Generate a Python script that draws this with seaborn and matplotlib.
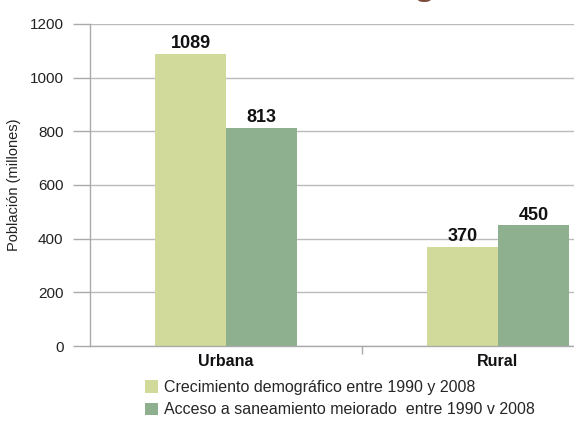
import matplotlib
matplotlib.use("Agg")
import matplotlib.pyplot as plt
import seaborn as sns
import pandas as pd
from matplotlib.patches import Patch

categories = ["Urbana", "Rural"]
series = ["Crecimiento demográfico entre 1990 y 2008",
          "Acceso a saneamiento meiorado  entre 1990 v 2008"]
crecimiento = [1089, 370]
acceso = [813, 450]
yticks = [0, 200, 400, 600, 800, 1000, 1200]
colors = ["#D1DA9B", "#8FB08F"]

sns.set_style("white")
narrow = ["Liberation Sans", "DejaVu Sans"]
plt.rcParams["font.family"] = narrow

df = pd.DataFrame({
    "cat": categories * 2,
    "serie": [series[0]] * 2 + [series[1]] * 2,
    "val": crecimiento + acceso,
})

fig = plt.figure(figsize=(5.74, 4.25), dpi=100)
ax = fig.add_axes([90 / 574, 79 / 425, 544 / 574, 322 / 425])

sns.barplot(data=df, x="cat", y="val", hue="serie", palette=colors,
            width=0.52, ax=ax, legend=False, saturation=1, linewidth=0,
            edgecolor="none")

ax.set_ylim(0, 1200)
ax.set_xlim(-0.5, 1.5)
ax.set_yticks(yticks)
ax.set_yticklabels([str(v) for v in yticks], fontsize=11, color="#222222")
ax.yaxis.grid(True, color="#BBBBBB", linewidth=1)
ax.set_axisbelow(True)
for s in ["top", "right"]:
    ax.spines[s].set_visible(False)
for s in ["left", "bottom"]:
    ax.spines[s].set_color("#AAAAAA")
    ax.spines[s].set_linewidth(1)
ax.tick_params(axis="y", length=12, color="#AAAAAA", width=1, pad=7, left=True)
ax.set_xticks([0, 1])
ax.set_xticklabels(categories, fontsize=11.5, fontweight="bold", color="#111111")
ax.set_xticks([0.5], minor=True)
ax.tick_params(axis="x", which="major", length=0, pad=6)
ax.tick_params(axis="x", which="minor", length=6, color="#AAAAAA", width=1, bottom=True)
ax.set_xlabel("")
ax.set_ylabel("Población (millones)", fontsize=10.5, color="#222222", labelpad=6)

for cont in ax.containers:
    ax.bar_label(cont, fmt="%d", fontsize=13, fontweight="bold", padding=1, color="#111111")

handles = [Patch(facecolor=c, edgecolor="none") for c in colors]
fig.legend(handles, series, loc="upper left", bbox_to_anchor=(145 / 574, 1 - 380 / 425),
           frameon=False, fontsize=11.5, handlelength=0.8, handleheight=0.8,
           handletextpad=0.4, labelspacing=0.45, borderaxespad=0, borderpad=0)

fig.text(425 / 574, 1 + 5 / 425, "g", fontsize=26, color="#7A4A3A",
         ha="center", va="baseline", family=["DejaVu Sans"])

fig.savefig("out.png", dpi=100)
